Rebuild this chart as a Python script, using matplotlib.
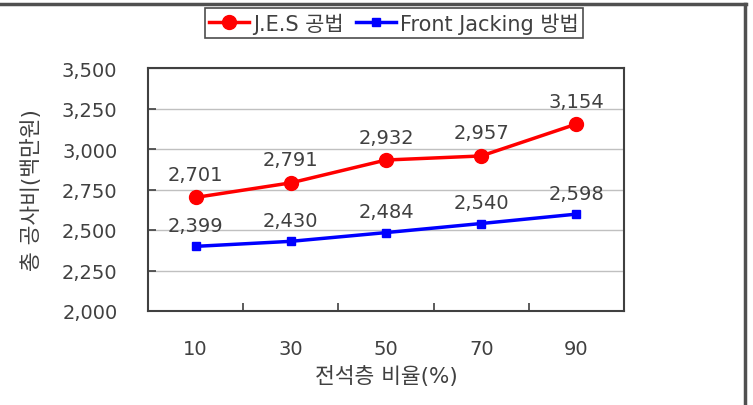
import matplotlib.pyplot as plt
from matplotlib.lines import Line2D

plt.rcParams['font.family'] = ['DejaVu Sans', 'Noto Sans CJK KR']

ratios = ['10', '30', '50', '70', '90']
jes = [2701, 2791, 2932, 2957, 3154]
front = [2399, 2430, 2484, 2540, 2598]
yticks = [2000, 2250, 2500, 2750, 3000, 3250, 3500]

txt = '#404040'
fs = 14
fig = plt.figure(figsize=(7.53, 4.06), dpi=100)
ax = fig.add_axes([148/753, 1-312/406, 476/753, 243/406])

x = list(range(len(ratios)))
ax.plot(x, jes, color='#ff0000', lw=2.5, marker='o', ms=10, label='J.E.S 공법', zorder=3)
ax.plot(x, front, color='#0000ff', lw=2.5, marker='s', ms=6, label='Front Jacking 방법', zorder=3)

for xi, v in zip(x, jes):
    ax.annotate(f'{v:,}', (xi, v), xytext=(0, 23), textcoords='offset pixels',
                ha='center', va='center', fontsize=fs, color=txt)
for xi, v in zip(x, front):
    ax.annotate(f'{v:,}', (xi, v), xytext=(0, 21), textcoords='offset pixels',
                ha='center', va='center', fontsize=fs, color=txt)

ax.set_xlim(-0.5, 4.5)
ax.set_ylim(2000, 3500)
ax.set_yticks(yticks)
ax.set_yticklabels([f'{v:,}' for v in yticks])
ax.set_xticks(x)
ax.set_xticklabels(ratios)
ax.set_xticks([0.5, 1.5, 2.5, 3.5], minor=True)
ax.tick_params(axis='x', which='major', length=0, pad=20, labelsize=fs, labelcolor=txt)
ax.tick_params(axis='x', which='minor', direction='in', length=6, width=1.2, color='#404040')
ax.tick_params(axis='y', direction='in', length=6, width=1.2, color='#404040',
               pad=22, labelsize=fs, labelcolor=txt)
ax.yaxis.grid(True, color='#c0c0c0', lw=1)
ax.set_axisbelow(True)
for s in ax.spines.values():
    s.set_color('#404040')
    s.set_linewidth(1.5)

ax.set_xlabel('전석층 비율(%)', fontsize=15.5, color=txt, labelpad=5)
ax.set_ylabel('총 공사비(백만원)', fontsize=15.5, color=txt, labelpad=14)

leg = ax.legend(loc='center', bbox_to_anchor=(394/753, 1-24/406), bbox_transform=fig.transFigure,
                ncol=2, fontsize=15, frameon=True, fancybox=False, handlelength=1.9,
                handletextpad=0.2, columnspacing=0.6, borderpad=0.2, borderaxespad=0,
                labelcolor=txt)
leg.get_frame().set_edgecolor('#202020')
leg.get_frame().set_linewidth(1.2)

# outer frame of the figure (top and right)
fig.add_artist(Line2D([0, 746/753], [1-5/406, 1-5/406], color='#505050', lw=2.5, transform=fig.transFigure))
fig.add_artist(Line2D([745/753, 745/753], [1-5/406, 0], color='#505050', lw=2.5, transform=fig.transFigure))

fig.savefig('out.png', dpi=100)
